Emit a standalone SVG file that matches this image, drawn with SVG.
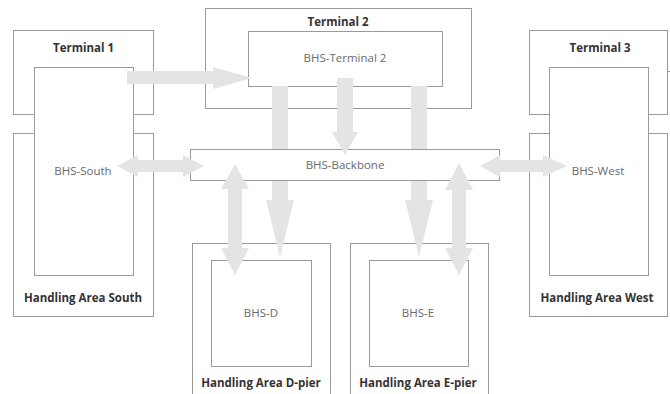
<svg xmlns="http://www.w3.org/2000/svg" width="670" height="394" viewBox="0 0 670 394">
  <style>
    .box { fill: none; stroke: #9a9a9a; stroke-width: 1; }
    .boxw { fill: #ffffff; stroke: #9a9a9a; stroke-width: 1; }
    .title { font-family: "Open Sans", "Liberation Sans", sans-serif; font-size: 11.5px; font-weight: bold; fill: #333333; text-anchor: middle; }
    .label { font-family: "Open Sans", "Liberation Sans", sans-serif; font-size: 11.5px; fill: #6a6a6a; text-anchor: middle; }
    .flow { fill: #e4e4e4; stroke: none; }
  </style>
  <rect x="0" y="0" width="670" height="394" fill="#ffffff"/>

  <!-- Terminal 2 and its BHS -->
  <g id="terminal-2">
    <rect class="box" x="205.5" y="8.5" width="266" height="100"/>
    <text class="title" x="338" y="26">Terminal 2</text>
  </g>
  <g id="bhs-terminal-2">
    <rect class="box" x="248.5" y="31.5" width="194" height="55"/>
    <text class="label" x="345" y="62">BHS-Terminal 2</text>
  </g>

  <!-- South side: terminal and handling area share one BHS -->
  <g id="terminal-1">
    <rect class="box" x="13.5" y="30.5" width="140" height="84"/>
    <text class="title" x="83.5" y="52">Terminal 1</text>
  </g>
  <g id="handling-area-south">
    <rect class="box" x="13.5" y="133.5" width="140" height="183"/>
    <text class="title" x="83" y="302">Handling Area South</text>
  </g>
  <g id="bhs-south">
    <rect class="boxw" x="34.5" y="67.5" width="99" height="208"/>
    <text class="label" x="83" y="175">BHS-South</text>
  </g>

  <!-- West side: terminal and handling area share one BHS -->
  <g id="terminal-3">
    <rect class="box" x="529.5" y="30.5" width="138" height="84"/>
    <line class="box" x1="667" y1="71.5" x2="670" y2="71.5"/>
    <text class="title" x="600" y="52">Terminal 3</text>
  </g>
  <g id="handling-area-west">
    <rect class="box" x="529.5" y="133.5" width="138" height="183"/>
    <text class="title" x="597" y="302">Handling Area West</text>
  </g>
  <g id="bhs-west">
    <rect class="boxw" x="549.5" y="67.5" width="99" height="208"/>
    <text class="label" x="598" y="175">BHS-West</text>
  </g>

  <!-- Piers -->
  <g id="handling-area-d-pier">
    <rect class="box" x="192.5" y="243.5" width="138" height="160"/>
    <text class="title" x="261" y="387">Handling Area D-pier</text>
  </g>
  <g id="bhs-d">
    <rect class="box" x="211.5" y="260.5" width="100" height="106"/>
    <text class="label" x="261" y="317">BHS-D</text>
  </g>
  <g id="handling-area-e-pier">
    <rect class="box" x="350.5" y="243.5" width="138" height="160"/>
    <text class="title" x="418" y="387">Handling Area E-pier</text>
  </g>
  <g id="bhs-e">
    <rect class="box" x="369.5" y="260.5" width="99" height="106"/>
    <text class="label" x="418" y="317">BHS-E</text>
  </g>

  <!-- Backbone -->
  <g id="bhs-backbone">
    <rect class="boxw" x="190.5" y="149.5" width="309" height="31"/>
    <text class="label" x="345" y="169">BHS-Backbone</text>
  </g>

  <!-- Flows between baggage systems -->
  <g id="connectors">
    <!-- Terminal 1 to BHS-Terminal 2 -->
    <path class="flow" d="M127,71 H213 V67 L252,78 L213,89 V84 H127 Z"/>
    <!-- BHS-Terminal 2 to backbone -->
    <path class="flow" d="M337,78 H353 V132 H358 L345,155 L332,132 H337 Z"/>
    <!-- BHS-Terminal 2 to BHS-D, passing under the backbone -->
    <path class="flow" d="M272,86 H288 V149 H272 Z M272,181 H288 V200 H294 L280,257 L266,200 H272 Z"/>
    <!-- BHS-Terminal 2 to BHS-E, passing under the backbone -->
    <path class="flow" d="M411,86 H427 V149 H411 Z M411,181 H427 V200 H433 L419,257 L405,200 H411 Z"/>
    <!-- Backbone <-> BHS-D -->
    <path class="flow" d="M235,164 L249,189 H242 V248 H249 L235,275 L221,248 H228 V189 H221 Z"/>
    <!-- Backbone <-> BHS-E -->
    <path class="flow" d="M459,163 L473,190 H466 V248 H473 L459,275 L445,248 H452 V190 H445 Z"/>
    <!-- BHS-South <-> backbone -->
    <path class="flow" d="M117,166 L138,155 V160 H183 V155 L204,166 L183,177 V172 H138 V177 Z"/>
    <!-- Backbone <-> BHS-West -->
    <path class="flow" d="M480,166 L500,155 V160 H543 V155 L567,166 L543,177 V172 H500 V177 Z"/>
  </g>
</svg>
